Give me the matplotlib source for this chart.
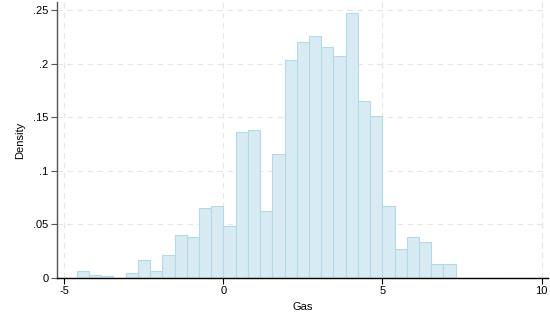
import matplotlib
matplotlib.use("Agg")
import matplotlib.pyplot as plt
import numpy as np

# Histogram of Gas (density scale), 31 bins
bin_start = -4.60
bin_width = 0.3839
density = [0.0065, 0.0031, 0.0016, 0.0, 0.0047, 0.0170, 0.0065, 0.0217,
           0.0403, 0.0385, 0.0654, 0.0670, 0.0487, 0.1360, 0.1377, 0.0623,
           0.1160, 0.2035, 0.2202, 0.2255, 0.2153, 0.2069, 0.2472, 0.1650,
           0.1511, 0.0673, 0.0270, 0.0385, 0.0338, 0.0133, 0.0133]

xticks = [-5, 0, 5, 10]
xtick_labels = ["-5", "0", "5", "10"]
yticks = [0, 0.05, 0.1, 0.15, 0.2, 0.25]
ytick_labels = ["0", ".05", ".1", ".15", ".2", ".25"]

plt.rcParams["font.family"] = ["Liberation Sans", "DejaVu Sans"]

fig = plt.figure(figsize=(5.5, 3.2), dpi=100)
ax = fig.add_axes([0.1036, 0.131, 0.8928, 0.863])

lefts = bin_start + bin_width * np.arange(len(density))
ax.bar(lefts, density, width=bin_width, align="edge",
       color="#d8eaf2", edgecolor="#b3dae8", linewidth=0.8, zorder=2)

ax.set_xlim(-5.22, 10.2)
ax.set_ylim(0, 0.2575)
ax.set_xticks(xticks)
ax.set_xticklabels(xtick_labels)
ax.set_yticks(yticks)
ax.set_yticklabels(ytick_labels)

ax.grid(True, color="#e6e6e6", linestyle=(0, (5, 4)), linewidth=0.8, zorder=0)

for side in ["top", "right"]:
    ax.spines[side].set_visible(False)
ax.spines["left"].set_color("#555555")
ax.spines["bottom"].set_color("black")
ax.spines["left"].set_linewidth(1.0)
ax.spines["bottom"].set_linewidth(1.0)

ax.tick_params(axis="both", labelsize=8, length=4, width=0.8, pad=2)
ax.tick_params(axis="y", colors="#555555", labelcolor="black")
ax.set_xlabel("Gas", fontsize=8, labelpad=4)
ax.set_ylabel("Density", fontsize=8, labelpad=6)

fig.savefig("out.png", dpi=100)
